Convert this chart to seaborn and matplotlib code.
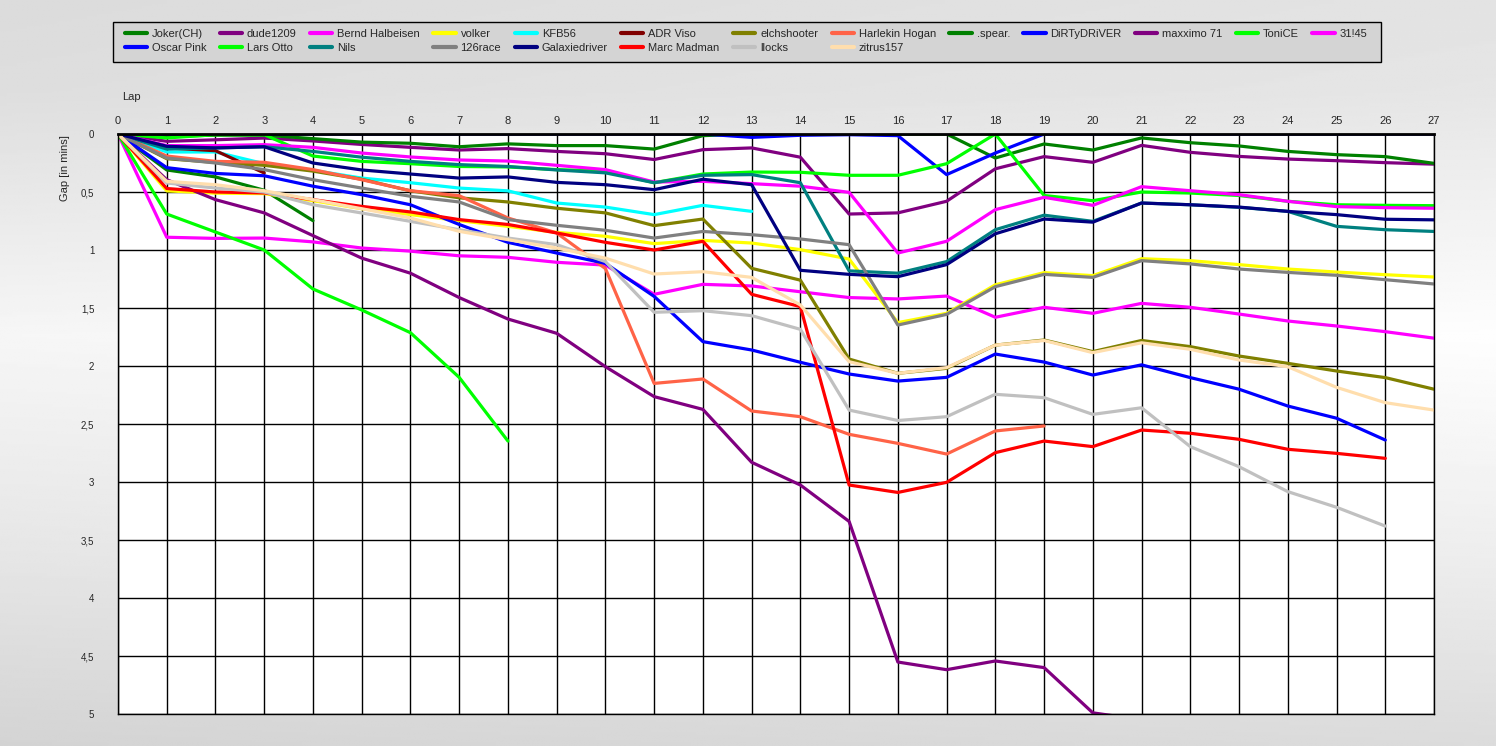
import numpy as np
import matplotlib
matplotlib.use("Agg")
import matplotlib.pyplot as plt
import matplotlib.patches as mpatches
import seaborn as sns

# Gap to leader (minutes) per lap, lap 0 first; shorter lists = retired drivers
joker = [0, 0.31, 0.37, 0.485, 0.747]
dude1209 = [0, 0.063, 0.05, 0.035, 0.06, 0.09, 0.115, 0.138, 0.126, 0.15, 0.17, 0.22, 0.135, 0.12,
            0.2, 0.69, 0.68, 0.58, 0.30, 0.195, 0.244, 0.098, 0.158, 0.193, 0.216, 0.23, 0.247, 0.26]
bernd = [0, 0.89, 0.9, 0.897, 0.93, 0.983, 1.01, 1.05, 1.063, 1.106, 1.13, 1.382, 1.296, 1.31,
         1.36, 1.41, 1.422, 1.397, 1.58, 1.494, 1.546, 1.46, 1.494, 1.552, 1.612, 1.655, 1.704, 1.76]
volker = [0, 0.49, 0.51, 0.514, 0.575, 0.644, 0.695, 0.747, 0.796, 0.848, 0.882, 0.945, 0.917, 0.94,
          0.997, 1.078, 1.626, 1.546, 1.3, 1.195, 1.221, 1.075, 1.092, 1.126, 1.164, 1.19, 1.213, 1.233]
kfb56 = [0, 0.155, 0.155, 0.256, 0.313, 0.38, 0.42, 0.466, 0.49, 0.595, 0.63, 0.695, 0.615, 0.667]
adr_viso = [0, 0.12, 0.144, 0.336]
elchshooter = [0, 0.213, 0.245, 0.27, 0.32, 0.39, 0.49, 0.55, 0.586, 0.64, 0.68, 0.79, 0.733, 1.158,
               1.26, 1.94, 2.063, 2.02, 1.82, 1.776, 1.876, 1.78, 1.833, 1.914, 1.977, 2.043, 2.1, 2.2]
harlekin = [0, 0.19, 0.236, 0.244, 0.307, 0.394, 0.489, 0.532, 0.724, 0.853, 1.16, 2.15, 2.112,
            2.388, 2.437, 2.589, 2.667, 2.759, 2.56, 2.517]
spear = [0, 0.02, 0.01, 0.01, 0.04, 0.07, 0.08, 0.11, 0.085, 0.1, 0.1, 0.13, 0.014, 0, 0, 0, 0, 0,
         0.207, 0.086, 0.138, 0.034, 0.075, 0.103, 0.15, 0.178, 0.195, 0.253]
dirtydriver = [0, 0, 0, 0, 0, 0, 0, 0, 0, 0, 0, 0, 0, 0.029, 0.011, 0.006, 0.014, 0.35, 0.164,
               0, 0, 0, 0, 0, 0, 0, 0, 0]
maxximo = [0, 0.394, 0.566, 0.68, 0.876, 1.07, 1.2, 1.41, 1.595, 1.718, 2.006, 2.264, 2.374, 2.83,
           3.026, 3.34, 4.552, 4.618, 4.543, 4.6, 4.99, 5.05]
tonice = [0, 0.034, 0.006, 0.006, 0.19, 0.236, 0.256, 0.28, 0.284, 0.307, 0.32, 0.42, 0.345, 0.328,
          0.33, 0.356, 0.356, 0.256, 0, 0.53, 0.575, 0.5, 0.509, 0.53, 0.58, 0.61, 0.615, 0.618]
p3145 = [0, 0.1, 0.1, 0.092, 0.115, 0.164, 0.198, 0.224, 0.233, 0.27, 0.307, 0.414, 0.408, 0.428,
         0.45, 0.503, 1.026, 0.925, 0.652, 0.546, 0.615, 0.454, 0.489, 0.523, 0.58, 0.626, 0.635, 0.64]
oscar_pink = [0, 0.29, 0.34, 0.36, 0.45, 0.523, 0.61, 0.78, 0.934, 1.026, 1.115, 1.4, 1.79, 1.862,
              1.968, 2.069, 2.13, 2.098, 1.897, 1.966, 2.078, 1.99, 2.1, 2.2, 2.345, 2.45, 2.638]
lars_otto = [0, 0.69, 0.845, 1.0, 1.336, 1.517, 1.713, 2.098, 2.647]
nils = [0, 0.13, 0.12, 0.11, 0.15, 0.2, 0.236, 0.264, 0.28, 0.31, 0.335, 0.42, 0.356, 0.35,
        0.42, 1.18, 1.2, 1.1, 0.825, 0.7, 0.753, 0.595, 0.61, 0.632, 0.667, 0.796, 0.825, 0.84]
race126 = [0, 0.207, 0.25, 0.307, 0.394, 0.466, 0.537, 0.586, 0.738, 0.787, 0.83, 0.897, 0.84, 0.868,
           0.905, 0.954, 1.647, 1.555, 1.316, 1.21, 1.236, 1.092, 1.12, 1.164, 1.193, 1.218, 1.256, 1.293]
galaxie = [0, 0.106, 0.12, 0.11, 0.25, 0.31, 0.345, 0.38, 0.37, 0.417, 0.437, 0.48, 0.39, 0.437,
           1.175, 1.21, 1.23, 1.126, 0.86, 0.733, 0.76, 0.595, 0.61, 0.63, 0.667, 0.695, 0.735, 0.74]
marc = [0, 0.47, 0.5, 0.508, 0.566, 0.624, 0.672, 0.738, 0.78, 0.853, 0.934, 1.0, 0.925, 1.382,
        1.488, 3.026, 3.09, 3.003, 2.747, 2.647, 2.695, 2.552, 2.58, 2.632, 2.718, 2.753, 2.796]
llocks = [0, 0.422, 0.466, 0.5, 0.61, 0.681, 0.753, 0.825, 0.897, 0.954, 1.1, 1.537, 1.523, 1.566,
          1.684, 2.38, 2.47, 2.437, 2.244, 2.273, 2.417, 2.36, 2.695, 2.868, 3.083, 3.218, 3.38]
zitrus = [0, 0.408, 0.437, 0.489, 0.566, 0.644, 0.724, 0.839, 0.911, 0.983, 1.07, 1.207, 1.187,
          1.236, 1.474, 1.963, 2.063, 2.014, 1.82, 1.78, 1.885, 1.8, 1.856, 1.948, 2.006, 2.184, 2.316, 2.38]

names = ["Joker(CH)", "dude1209", "Bernd Halbeisen", "volker", "KFB56", "ADR Viso", "elchshooter",
         "Harlekin Hogan", ".spear.", "DiRTyDRiVER", "maxximo 71", "ToniCE", "31!45",
         "Oscar Pink", "Lars Otto", "Nils", "126race", "Galaxiedriver", "Marc Madman", "llocks", "zitrus157"]
series = [joker, dude1209, bernd, volker, kfb56, adr_viso, elchshooter, harlekin, spear, dirtydriver,
          maxximo, tonice, p3145, oscar_pink, lars_otto, nils, race126, galaxie, marc, llocks, zitrus]
colors = ["#008000", "#800080", "#FF00FF", "#FFFF00", "#00FFFF", "#800000", "#808000", "#FF6347",
          "#008000", "#0000FF", "#800080", "#00FF00", "#FF00FF", "#0000FF", "#00FF00", "#008080",
          "#808080", "#000080", "#FF0000", "#C0C0C0", "#FFDEAD"]
lap_ticks = list(range(28))
gap_ticks = [0, 0.5, 1, 1.5, 2, 2.5, 3, 3.5, 4, 4.5, 5]

sns.set_style("white")
plt.rcParams['font.family'] = ['Liberation Sans', 'DejaVu Sans']

W, H = 1496, 746
fig = plt.figure(figsize=(W / 100, H / 100), dpi=100)

# grey window-style background gradient
bg = fig.add_axes([0, 0, 1, 1], zorder=-10)
yy = np.linspace(0, 1, 300)[:, None]
xx = np.linspace(0, 1, 300)[None, :]
shade = np.interp(yy, [0, 0.12, 0.45, 0.75, 1], [0.86, 0.87, 0.965, 0.9, 0.83]) + 0.03 * xx
bg.imshow(np.clip(shade, 0, 1), cmap="gray", vmin=0, vmax=1, aspect="auto", extent=[0, 1, 0, 1], origin="upper")
bg.axis("off")

ax = fig.add_axes([118 / W, 1 - 714 / H, (1434 - 118) / W, (714 - 134) / H])
ax.set_facecolor("white")

for name, vals, c in zip(names, series, colors):
    sns.lineplot(x=lap_ticks[:len(vals)], y=vals, color=c, lw=2.3, label=name, ax=ax)

ax.set_xlim(0, 27)
ax.set_ylim(5, 0)
ax.set_xticks(lap_ticks)
ax.set_yticks(gap_ticks)
ax.set_yticklabels([f"{g:g}".replace(".", ",") for g in gap_ticks])
ax.xaxis.tick_top()
ax.grid(True, color="black", lw=1)
ax.set_axisbelow(True)
for s in ax.spines.values():
    s.set_color("black")
    s.set_linewidth(1)
ax.spines["top"].set_linewidth(2)
ax.tick_params(axis="x", length=0, pad=6, labelsize=8)
ax.tick_params(axis="y", length=15, width=1, color="black", pad=2, labelsize=7)
ax.set_xlabel("")
ax.set_ylabel("")

fig.text(122 / W, 1 - 97 / H, "Lap", fontsize=8, va="center")
fig.text(65 / W, 1 - 168 / H, "Gap [in mins]", rotation=90, fontsize=8, ha="center", va="center")

# legend box is wider than its entries, so draw the frame separately
fig.add_artist(mpatches.Rectangle((113 / W, 1 - 62 / H), (1381 - 113) / W, 40 / H,
                                  transform=fig.transFigure, facecolor="#D4D4D4",
                                  edgecolor="black", lw=1, zorder=1))

# reorder so column-major legend reads row by row like the original
handles, labels = ax.get_legend_handles_labels()
ax.get_legend().remove()
first_row, second_row = list(range(13)), list(range(13, 21))
order = []
for i in range(13):
    order.append(first_row[i])
    if i < len(second_row):
        order.append(second_row[i])
leg = fig.legend([handles[i] for i in order], [labels[i] for i in order], ncol=13, loc="upper left",
                 bbox_to_anchor=(119 / W, 1 - 23 / H), frameon=False, fontsize=8,
                 handlelength=2.0, handletextpad=0.45, columnspacing=1.2, borderpad=0,
                 labelspacing=0.4)
leg.set_zorder(2)
for h in leg.legend_handles:
    h.set_linewidth(3)

fig.savefig("out.png", dpi=100)
